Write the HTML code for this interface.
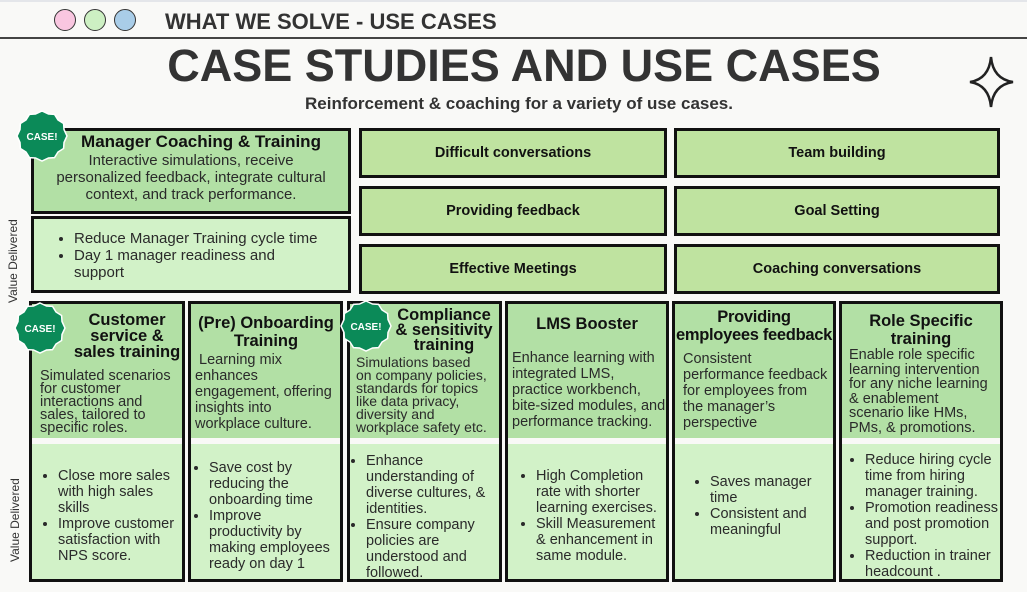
<!DOCTYPE html>
<html><head><meta charset="utf-8"><style>
*{margin:0;padding:0;box-sizing:border-box}
body{width:1027px;height:592px;background:#f9f9f7;position:relative;overflow:hidden;font-family:"Liberation Sans",sans-serif;color:#1e1e1e}
.a{position:absolute}
.box{position:absolute;border:3px solid #111}
.t{background:#b2e0a5}
.l{background:#d2f2c8}
.g{background:#bfe3a0;border:3px solid #111;position:absolute;display:flex;align-items:center;justify-content:center;font-weight:bold;font-size:14.5px;color:#111}
h3{font-size:16.5px;font-weight:bold;text-align:center;line-height:16px;color:#111;white-space:nowrap}
.p{font-size:14.5px;line-height:15.5px;color:#2a2a2a;white-space:nowrap}
ul{padding-left:18px;font-size:14.5px;line-height:16px;color:#2a2a2a;white-space:nowrap}
li{margin:0}
.vd{position:absolute;font-size:12px;transform:rotate(-90deg);transform-origin:left top;color:#333;white-space:nowrap}
.col{position:absolute;top:301px;height:281px;border:3px solid #111;background:#f9f9f7;overflow:hidden}
.col .tp{position:absolute;left:0;right:0;top:0;height:134px;background:#b2e0a5}
.col .bt{position:absolute;left:0;right:0;top:140px;bottom:0;background:#d2f2c8}
</style></head><body>
<div class="a" style="left:0;top:0;width:1027px;height:2px;background:#e4e6ea"></div>
<div class="a" style="left:54px;top:9px;width:22px;height:22px;border-radius:50%;background:#f9c6e0;border:1.5px solid #333"></div>
<div class="a" style="left:84px;top:9px;width:22px;height:22px;border-radius:50%;background:#cdf0c3;border:1.5px solid #333"></div>
<div class="a" style="left:114px;top:9px;width:22px;height:22px;border-radius:50%;background:#a9cde8;border:1.5px solid #333"></div>
<div class="a" style="left:165px;top:9px;font-size:22px;font-weight:bold;color:#333;white-space:nowrap">WHAT WE SOLVE - USE CASES</div>
<div class="a" style="left:0;top:37px;width:1027px;height:2px;background:#444"></div>
<div class="a" style="left:166px;top:40px;width:716px;text-align:center;font-size:45px;font-weight:bold;color:#333;white-space:nowrap">CASE STUDIES AND USE CASES</div>
<div class="a" style="left:305px;top:94px;font-size:17px;font-weight:bold;color:#333;white-space:nowrap">Reinforcement &amp; coaching for a variety of use cases.</div>
<svg class="a" style="left:965px;top:55px" width="55" height="55" viewBox="0 0 55 55"><path d="M26 2 Q28 24 48 27 Q28 30 26 52 Q24 30 5 27 Q24 24 26 2Z" fill="none" stroke="#222" stroke-width="2.5"/></svg>

<div class="box t" style="left:31px;top:128px;width:320px;height:86px"></div>
<div class="a" style="left:36px;top:134px;width:310px"><h3 style="font-size:17px;padding-left:20px">Manager Coaching &amp; Training</h3>
<div class="p" style="text-align:center;font-size:15px;line-height:17px;margin-top:2px">Interactive simulations, receive<br>personalized feedback, integrate cultural<br>context, and track performance.</div></div>
<div class="box l" style="left:31px;top:216px;width:320px;height:77px"></div>
<ul class="a" style="left:56px;top:230px;font-size:15px;line-height:17px"><li>Reduce Manager Training cycle time</li><li>Day 1 manager readiness and<br>support</li></ul>
<div class="vd" style="left:6px;top:303px">Value Delivered</div>

<div class="g" style="left:359px;top:128px;width:308px;height:50px">Difficult conversations</div>
<div class="g" style="left:674px;top:128px;width:326px;height:50px">Team building</div>
<div class="g" style="left:359px;top:186px;width:308px;height:50px">Providing feedback</div>
<div class="g" style="left:674px;top:186px;width:326px;height:50px">Goal Setting</div>
<div class="g" style="left:359px;top:244px;width:308px;height:50px">Effective Meetings</div>
<div class="g" style="left:674px;top:244px;width:326px;height:50px">Coaching conversations</div>

<div class="vd" style="left:8px;top:562px">Value Delivered</div>

<div class="col" style="left:29px;width:156px"><div class="tp"></div><div class="bt"></div>
<h3 class="a" style="left:40px;top:8px;width:110px;line-height:16px">Customer<br>service &amp;<br>sales training</h3>
<div class="a p" style="left:8px;top:66px;line-height:13px">Simulated scenarios<br>for customer<br>interactions and<br>sales, tailored to<br>specific roles.</div>
<ul class="a" style="left:8px;top:164px"><li>Close more sales<br>with high sales<br>skills</li><li>Improve customer<br>satisfaction with<br>NPS score.</li></ul></div>

<div class="col" style="left:188px;width:155px"><div class="tp"></div><div class="bt"></div>
<h3 class="a" style="left:0;top:10px;width:150px;line-height:18px">(Pre) Onboarding<br>Training</h3>
<div class="a p" style="left:4px;top:48px;line-height:16px">&nbsp;Learning mix<br>enhances<br>engagement, offering<br>insights into<br>workplace culture.</div>
<ul class="a" style="left:0;top:156px"><li>Save cost by<br>reducing the<br>onboarding time</li><li>Improve<br>productivity by<br>making employees<br>ready on day 1</li></ul></div>

<div class="col" style="left:347px;width:155px"><div class="tp"></div><div class="bt"></div>
<h3 class="a" style="left:38px;top:4px;width:112px;line-height:15px">Compliance<br>&amp; sensitivity<br>training</h3>
<div class="a p" style="left:6px;top:52px;line-height:13px;font-size:14px">Simulations based<br>on company policies,<br>standards for topics<br>like data privacy,<br>diversity and<br>workplace safety etc.</div>
<ul class="a" style="left:-2px;top:149px"><li>Enhance<br>understanding of<br>diverse cultures, &amp;<br>identities.</li><li>Ensure company<br>policies are<br>understood and<br>followed.</li></ul></div>

<div class="col" style="left:505px;width:164px"><div class="tp"></div><div class="bt"></div>
<h3 class="a" style="left:0;top:12px;width:158px">LMS Booster</h3>
<div class="a p" style="left:4px;top:46px;line-height:16px">Enhance learning with<br>integrated LMS,<br>practice workbench,<br>bite-sized modules, and<br>performance tracking.</div>
<ul class="a" style="left:10px;top:164px"><li>High Completion<br>rate with shorter<br>learning exercises.</li><li>Skill Measurement<br>&amp; enhancement in<br>same module.</li></ul></div>

<div class="col" style="left:672px;width:164px"><div class="tp"></div><div class="bt"></div>
<h3 class="a" style="left:0;top:4px;width:158px;line-height:18px;letter-spacing:-0.3px">Providing<br>employees feedback</h3>
<div class="a p" style="left:8px;top:47px;line-height:16px">Consistent<br>performance feedback<br>for employees from<br>the manager’s<br>perspective</div>
<ul class="a" style="left:17px;top:170px"><li>Saves manager<br>time</li><li>Consistent and<br>meaningful</li></ul></div>

<div class="col" style="left:839px;width:164px"><div class="tp"></div><div class="bt"></div>
<h3 class="a" style="left:0;top:8px;width:158px;line-height:18px">Role Specific<br>training</h3>
<div class="a p" style="left:7px;top:44px;line-height:14.5px">Enable role specific<br>learning intervention<br>for any niche learning<br>&amp; enablement<br>scenario like HMs,<br>PMs, &amp; promotions.</div>
<ul class="a" style="left:5px;top:148px"><li>Reduce hiring cycle<br>time from hiring<br>manager training.</li><li>Promotion readiness<br>and post promotion<br>support.</li><li>Reduction in trainer<br>headcount .</li></ul></div>

<svg class="a" style="left:0;top:0" width="1027" height="592">
<defs><g id="b"><polygon points="0,-25 6.5,-22 12.5,-21.6 16,-16 21.6,-12.5 22,-6.5 25,0 22,6.5 21.6,12.5 16,16 12.5,21.6 6.5,22 0,25 -6.5,22 -12.5,21.6 -16,16 -21.6,12.5 -22,6.5 -25,0 -22,-6.5 -21.6,-12.5 -16,-16 -12.5,-21.6 -6.5,-22" fill="#0b8a58" stroke="#fff" stroke-width="1.5"/><text x="0" y="4" text-anchor="middle" font-family="Liberation Sans" font-weight="bold" font-size="10" fill="#fff">CASE!</text></g></defs>
<use href="#b" x="42" y="136"/><use href="#b" x="40" y="328"/><use href="#b" x="366" y="326"/>
</svg>
</body></html>
